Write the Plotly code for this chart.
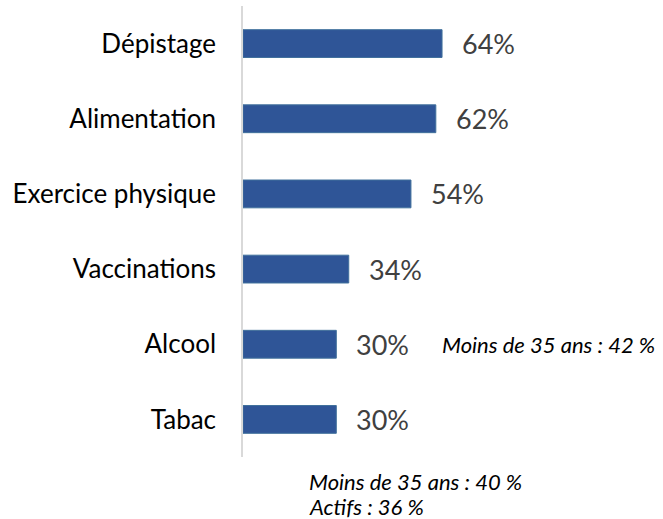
import plotly.graph_objects as go

categories = ['Dépistage', 'Alimentation', 'Exercice physique', 'Vaccinations', 'Alcool', 'Tabac']
values = [64, 62, 54, 34, 30, 30]
note_alcool = 'Moins de 35 ans : 42 %'
note_tabac = ['Moins de 35 ans : 40 %', 'Actifs : 36 %']

fig = go.Figure()
fig.add_trace(go.Bar(
    x=values,
    y=categories,
    orientation='h',
    marker=dict(color='#2F5597', line=dict(color='#41719C', width=1)),
    hoverinfo='skip',
))

for cat, v in zip(categories, values):
    fig.add_annotation(
        x=v, y=cat, xref='x', yref='y',
        text=f'{v}%', showarrow=False,
        xanchor='left', xshift=18,
        font=dict(family='Lato', size=27, color='#404040'),
    )

fig.add_annotation(
    x=63.3, y='Alcool', xref='x', yref='y',
    text=f'<i>{note_alcool}</i>', showarrow=False, xanchor='left',
    font=dict(family='Lato', size=22, color='#000000'),
)
for t, yp in zip(note_tabac, [-0.054, -0.11]):
    fig.add_annotation(
        x=20.5, y=yp, xref='x', yref='paper',
        text=f'<i>{t}</i>', showarrow=False,
        xanchor='left', yanchor='middle',
        font=dict(family='Lato', size=22, color='#000000'),
    )

fig.update_layout(
    width=663, height=519,
    margin=dict(l=243, r=109, t=6, b=62),
    paper_bgcolor='white',
    plot_bgcolor='white',
    showlegend=False,
    bargap=0.63,
    xaxis=dict(range=[0, 100], visible=False, fixedrange=True),
    yaxis=dict(
        autorange='reversed',
        showline=True, linecolor='#D9D9D9', linewidth=1.5,
        showgrid=False, ticks='', ticklabelstandoff=20,
        tickfont=dict(family='Lato', size=26, color='#000000'),
        fixedrange=True,
    ),
)

fig.write_html('out.html', config={'displayModeBar': False},
               post_script="document.body.style.margin='0';")
